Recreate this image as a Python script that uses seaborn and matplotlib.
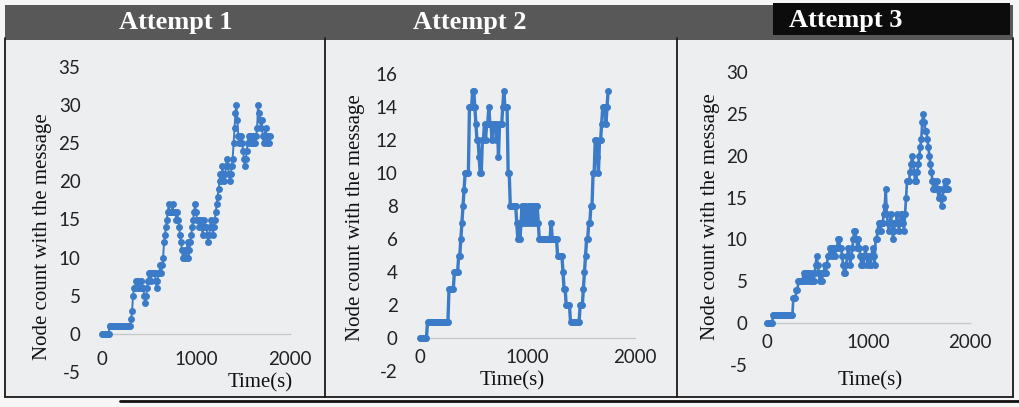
import numpy as np
import pandas as pd
import matplotlib
matplotlib.use("Agg")
import matplotlib.pyplot as plt
from matplotlib.patches import Rectangle
from matplotlib.lines import Line2D
import seaborn as sns

# Node counts holding the message, sampled every 10 s
SAMPLE_STEP = 10

attempt1 = [
    0, 0, 0, 0, 0, 0, 0, 0,
    1, 1, 1, 1, 1, 1, 1, 1, 1, 1, 1, 1, 1, 1, 1, 1, 1, 1, 1, 1, 1, 1, 1,
    2, 3, 5,
    6, 6, 7, 7, 6, 6,
    7, 7, 7, 6, 6,
    5, 4, 5, 6, 7,
    8, 8, 7, 8, 8, 8, 8, 7, 6, 7, 8, 8, 9, 8, 9,
    10, 12, 13, 14, 15, 16, 17, 16, 16,
    16, 17, 16, 16, 16, 15, 16, 15,
    14, 13, 12, 11, 10, 10, 11, 10, 11, 12, 10, 11, 12, 13,
    14, 15, 16, 17, 16,
    15, 15, 14, 15, 15, 14, 13, 14, 15, 14, 14, 13, 12, 13, 14, 15, 14, 13, 14, 15,
    16, 17, 18, 19, 20, 21,
    20, 22, 21, 20, 21, 22, 23, 22, 21, 20, 21, 22, 23,
    25, 27, 29, 30, 28, 26,
    25, 26, 26, 25, 24, 23, 22, 23, 24, 25, 26, 26, 25, 26, 26, 25, 26, 25, 26, 27,
    30, 29, 28, 27, 28, 26, 25, 26, 27, 26, 25, 26, 25, 26,
]

attempt2 = [
    0, 0, 0, 0, 0, 0, 0,
    1, 1, 1, 1, 1, 1, 1, 1, 1, 1, 1, 1, 1, 1, 1, 1, 1, 1, 1, 1,
    3, 3, 3, 3, 3,
    4, 4, 4, 4,
    5, 5, 6, 7, 8, 9, 10, 10, 10, 10,
    14, 14, 14, 15, 15, 14, 13, 12, 12, 11, 10,
    10, 12, 12, 13, 12, 13, 13, 14, 13, 13, 12, 13, 13, 13, 12, 13,
    11, 13, 13, 13, 14, 15, 14, 14, 14, 10,
    10, 8, 8, 8, 8, 8, 8, 7,
    6, 7, 6, 7, 8, 7, 8, 8, 7, 8,
    7, 8, 8, 7, 8, 8, 7, 8, 8, 7, 6,
    6, 6, 6, 6, 6, 6, 6, 6, 6, 6, 7, 6, 6, 6, 6, 6, 5, 5, 5,
    5, 5, 4, 3, 3, 2, 2, 2, 2, 1,
    1, 1, 1, 1, 1, 1, 1, 1, 2,
    2, 2, 3, 4, 5, 6, 6, 7, 7, 8, 8,
    10, 10, 12, 12, 11, 10, 12, 12,
    13, 14, 14, 14, 13, 14, 15,
]

attempt3 = [
    0, 0, 0, 0, 0, 0,
    1, 1, 1, 1, 1, 1, 1, 1, 1, 1, 1, 1, 1, 1, 1, 1, 1, 1, 1, 1,
    3, 3, 3, 4, 4,
    5, 5, 5, 5, 5, 6, 6,
    5, 6, 6, 5, 6, 5, 5, 6, 5,
    6, 7, 8, 7, 6, 5,
    6, 5, 6, 6, 7, 6, 7, 8, 8,
    9, 9, 8, 9, 9, 8, 9, 9, 10, 10, 9,
    9, 8, 7, 6, 6, 7, 8, 9,
    8, 7, 8, 9, 10, 11, 11,
    10, 9, 10, 9, 8, 7, 8, 7, 8, 9, 8, 7, 8, 7, 7, 8, 9, 8, 7,
    10, 10, 11, 12, 12, 11, 12, 12, 13, 14, 16,
    13, 12, 11, 12, 13, 12, 10, 11, 12, 12, 13, 12, 11,
    12, 13, 13, 12, 11, 13, 15, 17,
    17, 17, 18, 19, 20, 19, 18, 17, 17, 18, 19, 20, 21, 22,
    24, 25, 24, 23, 23, 22, 21, 20, 19, 18, 17, 16,
    17, 16, 17, 16, 15, 16, 15, 14, 15, 16, 17, 16, 17, 16,
]

titles = ["Attempt 1", "Attempt 2", "Attempt 3"]
series = [attempt1, attempt2, attempt3]
y_limits = [(-5, 35), (-2, 16), (-5, 30)]
y_steps = [5, 2, 5]
x_ticks = [0, 1000, 2000]
x_label = "Time(s)"
y_label = "Node count with the message"

frames = []
for name, vals in zip(titles, series):
    frames.append(pd.DataFrame({
        "time": np.arange(len(vals)) * SAMPLE_STEP,
        "count": vals,
        "attempt": name,
    }))
data = pd.concat(frames, ignore_index=True)

sns.set_theme(style="white")
plt.rcParams["font.family"] = ["Lato", "DejaVu Sans"]

W, H = 1019, 407
fig = plt.figure(figsize=(W / 100, H / 100), dpi=100)
fig.patch.set_facecolor("#f6f6f6")


def px_rect(x0, y0, x1, y1):
    """Rectangle given in pixel coordinates measured from the top-left corner."""
    return [x0 / W, 1 - y1 / H, (x1 - x0) / W, (y1 - y0) / H]


# panel backgrounds and frames
panel_edges = [5, 325, 677, 1013]
PANEL_BG = "#eceeef"
fig.add_artist(Rectangle((5 / W, 1 - 397 / H), (1013 - 5) / W, (397 - 38) / H,
                         transform=fig.transFigure, facecolor=PANEL_BG,
                         edgecolor="none", zorder=0))
for xe in panel_edges:
    fig.add_artist(Line2D([xe / W, xe / W], [1 - 397 / H, 1 - 38 / H],
                          transform=fig.transFigure, color="#1a1a1a", lw=1.3))
fig.add_artist(Line2D([5 / W, 1013 / W], [1 - 397 / H, 1 - 397 / H],
                      transform=fig.transFigure, color="#1a1a1a", lw=1.3))
fig.add_artist(Line2D([120 / W, 1019 / W], [1 - 401 / H, 1 - 401 / H],
                      transform=fig.transFigure, color="#111111", lw=2.0))

# title banners
fig.add_artist(Rectangle((5 / W, 1 - 40 / H), (1013 - 5) / W, 35 / H,
                         transform=fig.transFigure, facecolor="#585858",
                         edgecolor="none", zorder=1))
fig.add_artist(Rectangle((773 / W, 1 - 35 / H), (1010 - 773) / W, 32 / H,
                         transform=fig.transFigure, facecolor="#0c0c0c",
                         edgecolor="none", zorder=1))
title_pos = [(176, 23), (470, 22), (846, 20)]
for name, (tx, ty) in zip(titles, title_pos):
    fig.text(tx / W, 1 - ty / H, name, ha="center", va="center", color="white",
             fontsize=19, fontweight="bold", family="Liberation Serif", zorder=3)

# axes placement: (left px, right px, top px, bottom px) of the data area
axes_px = [(102, 290, 67, 372), (420, 635, 74, 371), (767, 970, 72, 365)]
ylabel_x = [-0.264, -0.256, -0.23]
ylabel_y = [0.443, 0.515, 0.508]
xlabel_pos = [(0.84, -0.005), (0.428, 0.0), (0.51, -0.02)]
xtick_pad = [12.0, 8.0, 8.0]
ytick_pad = [15.5, 16.0, 14.0]
line_widths = [1.4, 2.4, 1.9]
marker_sizes = [5.0, 5.0, 5.0]

BLUE = "#3b7bc8"

for i, name in enumerate(titles):
    l, r, t, b = axes_px[i]
    ax = fig.add_axes(px_rect(l, t, r, b))
    ax.set_facecolor("none")
    sub = data[data["attempt"] == name]
    sns.lineplot(data=sub, x="time", y="count", ax=ax, color=BLUE,
                 marker="o", markersize=marker_sizes[i], markeredgewidth=0,
                 linewidth=line_widths[i], estimator=None, sort=False, zorder=4)
    lo, hi = y_limits[i]
    ax.set_xlim(0, 2000)
    ax.set_ylim(lo, hi)
    ax.set_yticks(np.arange(lo, hi + 0.1, y_steps[i]))
    ax.set_xticks(x_ticks)
    ax.set_xticklabels([str(v) for v in x_ticks])
    ax.set_yticklabels([str(int(v)) for v in np.arange(lo, hi + 0.1, y_steps[i])])
    for side in ("top", "right", "left"):
        ax.spines[side].set_visible(False)
    ax.spines["bottom"].set_position(("data", 0))
    ax.spines["bottom"].set_color("#c4c6c8")
    ax.spines["bottom"].set_linewidth(0.9)
    ax.spines["bottom"].set_zorder(1)
    ax.tick_params(axis="x", length=0, pad=xtick_pad[i], labelsize=13.5,
                   colors="#222222")
    ax.tick_params(axis="y", length=0, pad=ytick_pad[i], labelsize=13.5,
                   colors="#222222")
    ax.set_ylabel(y_label, family="Liberation Serif", fontsize=15, color="#111111")
    ax.yaxis.set_label_coords(ylabel_x[i], ylabel_y[i])
    ax.set_xlabel(x_label, family="Liberation Serif", fontsize=15, color="#111111")
    ax.xaxis.set_label_coords(*xlabel_pos[i])
    ax.grid(False)
    for line in ax.lines:
        line.set_clip_on(False)

fig.savefig("out.png", dpi=100, facecolor=fig.get_facecolor())
